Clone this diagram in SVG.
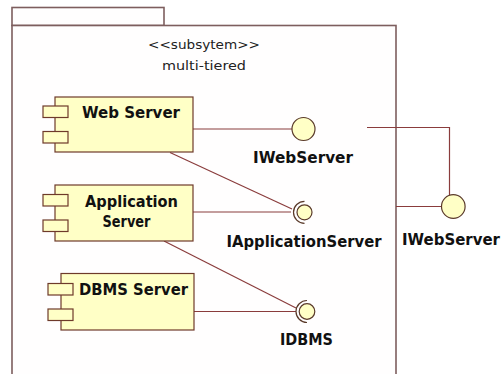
<svg xmlns="http://www.w3.org/2000/svg" width="504" height="374" viewBox="0 0 504 374">
<style>
.pkg{fill:#fffefe;stroke:#7d5e5e;stroke-width:1.6}
.box{fill:#ffffc6;stroke:#6e3a2a;stroke-width:1.2}
.ball{fill:#ffffc6;stroke:#5a3a2a;stroke-width:1.2}
.sock{fill:none;stroke:#5a3a2a;stroke-width:1.2}
.con{fill:none;stroke:#8a3c3c;stroke-width:1.2}
.t{font-family:"DejaVu Sans",Verdana,sans-serif;font-weight:bold;font-size:15.5px;fill:#111}
.s{font-family:"DejaVu Sans",Verdana,sans-serif;font-size:13px;fill:#222}
</style>
<rect width="504" height="374" fill="#ffffff"/>
<g id="subsystem">
<rect class="pkg" x="12" y="7.5" width="152" height="18"/>
<rect class="pkg" x="12" y="25.5" width="384" height="360"/>
<text class="s" x="204" y="49" text-anchor="middle" textLength="112" lengthAdjust="spacingAndGlyphs">&lt;&lt;subsytem&gt;&gt;</text>
<text class="s" x="204" y="70" text-anchor="middle" textLength="84" lengthAdjust="spacingAndGlyphs">multi-tiered</text>
</g>
<g id="connectors">
<line class="con" x1="193" y1="129" x2="292" y2="129"/>
<line class="con" x1="193" y1="212" x2="291" y2="212"/>
<line class="con" x1="170" y1="152.5" x2="292" y2="209"/>
<line class="con" x1="194" y1="311.5" x2="296" y2="311.5"/>
<line class="con" x1="164" y1="241" x2="296" y2="308"/>
<polyline class="con" points="367,127.5 449.5,127.5 449.5,195.5"/>
<line class="con" x1="396" y1="206.5" x2="441.5" y2="206.5"/>
</g>
<g id="web-server">
<rect class="box" x="55" y="97" width="138" height="55"/>
<rect class="box" x="43" y="106" width="25" height="11.5"/>
<rect class="box" x="43" y="131.5" width="25" height="11.5"/>
<text class="t" x="131" y="118" text-anchor="middle" textLength="98" lengthAdjust="spacingAndGlyphs">Web Server</text>
</g>
<g id="application-server">
<rect class="box" x="55" y="185" width="138" height="56"/>
<rect class="box" x="43" y="194.5" width="25" height="11.5"/>
<rect class="box" x="43" y="220" width="25" height="11.5"/>
<text class="t" x="131.5" y="206.5" text-anchor="middle" textLength="93" lengthAdjust="spacingAndGlyphs">Application</text>
<text class="t" x="126.5" y="226.5" text-anchor="middle" textLength="48" lengthAdjust="spacingAndGlyphs">Server</text>
</g>
<g id="dbms-server">
<rect class="box" x="61" y="273.5" width="133" height="56.5"/>
<rect class="box" x="48" y="283.5" width="25" height="11.5"/>
<rect class="box" x="48" y="309" width="25" height="11.5"/>
<text class="t" x="133.5" y="295" text-anchor="middle" textLength="109" lengthAdjust="spacingAndGlyphs">DBMS Server</text>
</g>
<g id="iwebserver-inner">
<circle class="ball" cx="303.5" cy="129" r="11.5"/>
<text class="t" x="303" y="163" text-anchor="middle" textLength="100" lengthAdjust="spacingAndGlyphs">IWebServer</text>
</g>
<g id="iapplicationserver">
<circle class="ball" cx="304.5" cy="212.3" r="7.5"/>
<path class="sock" d="M304.5,201.3 A11,11 0 0 0 304.5,223.3"/>
<text class="t" x="304" y="246.5" text-anchor="middle" textLength="155" lengthAdjust="spacingAndGlyphs">IApplicationServer</text>
</g>
<g id="idbms">
<circle class="ball" cx="307" cy="311.5" r="7.8"/>
<path class="sock" d="M307,300.5 A11,11 0 0 0 307,322.5"/>
<text class="t" x="306.5" y="345" text-anchor="middle" textLength="53" lengthAdjust="spacingAndGlyphs">IDBMS</text>
</g>
<g id="iwebserver-outer">
<circle class="ball" cx="453.3" cy="206.5" r="11.8"/>
<text class="t" x="451" y="245" text-anchor="middle" textLength="98" lengthAdjust="spacingAndGlyphs">IWebServer</text>
</g>
</svg>
